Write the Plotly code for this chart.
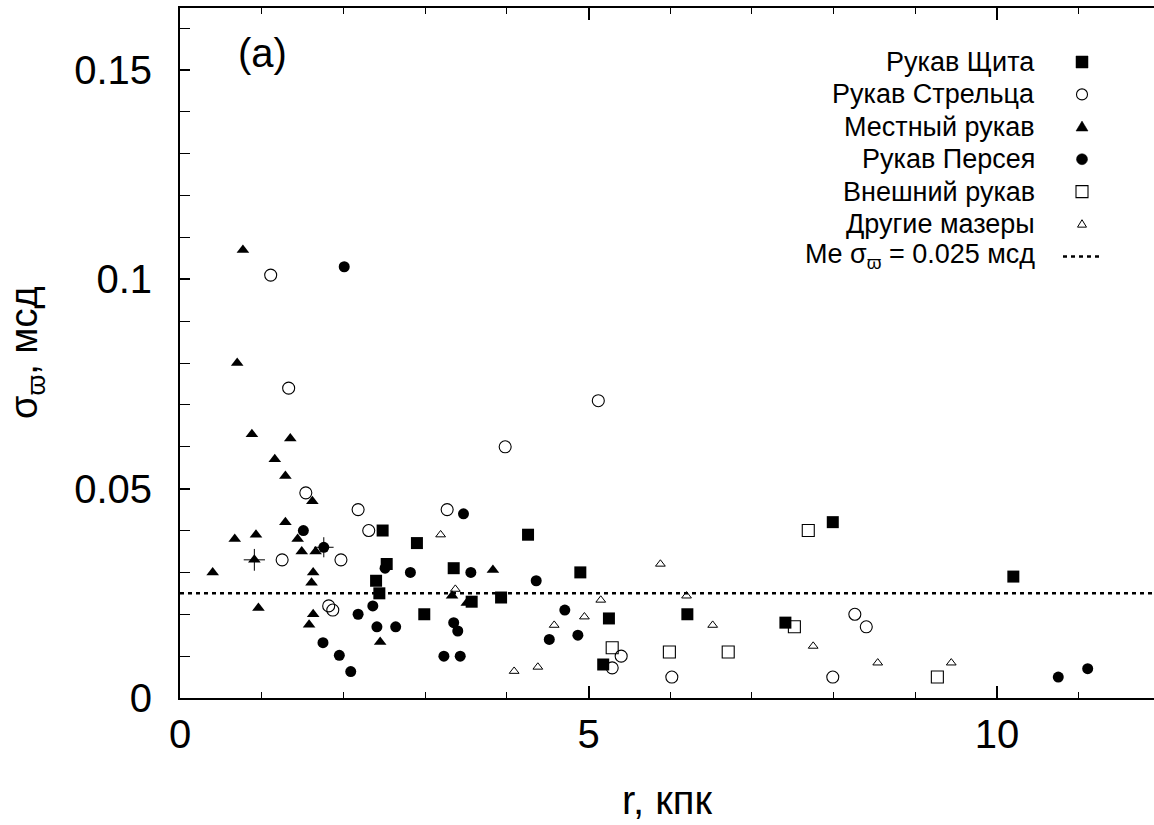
import plotly.graph_objects as go

# ---------------- data (r in kpc, sigma_parallax in mas) ----------------
scutum_r = [2.48, 2.90, 2.53, 2.40, 2.44, 3.35, 2.99, 3.57, 3.93, 4.26, 4.90, 5.25, 5.18, 6.21, 7.41, 7.99, 10.20]
scutum_s = [0.040, 0.037, 0.032, 0.028, 0.025, 0.031, 0.020, 0.023, 0.024, 0.039, 0.030, 0.019, 0.008, 0.020, 0.018, 0.042, 0.029]

sagitt_r = [1.11, 1.33, 1.54, 2.18, 2.31, 1.25, 1.97, 1.82, 1.87, 3.27, 5.40, 5.29, 5.12, 3.98, 6.02, 7.99, 8.26, 8.40]
sagitt_s = [0.101, 0.074, 0.049, 0.045, 0.040, 0.033, 0.033, 0.022, 0.021, 0.045, 0.010, 0.0072, 0.071, 0.060, 0.005, 0.005, 0.020, 0.017]

local_r = [0.77, 0.70, 0.88, 1.35, 1.16, 1.29, 1.62, 1.29, 0.67, 0.93, 1.44, 1.49, 1.66, 0.91, 0.40, 1.63, 1.61, 0.96, 1.63, 1.58, 2.45, 3.83, 3.33, 3.51]
local_s = [0.107, 0.080, 0.063, 0.062, 0.057, 0.053, 0.047, 0.042, 0.038, 0.039, 0.038, 0.035, 0.035, 0.033, 0.030, 0.030, 0.0275, 0.0215, 0.020, 0.0175, 0.0134, 0.0306, 0.0244, 0.0227]
local_er = [0, 0, 0, 0, 0, 0, 0, 0, 0, 0, 0, 0, 0, 0.13, 0, 0, 0, 0, 0, 0, 0, 0, 0, 0]
local_es = [0, 0, 0, 0, 0, 0, 0, 0, 0, 0, 0, 0, 0, 0.0026, 0, 0, 0, 0, 0, 0, 0, 0, 0, 0]

perseus_r = [2.01, 1.51, 1.76, 2.51, 2.82, 2.36, 2.18, 2.41, 2.64, 1.75, 1.95, 2.09, 3.47, 3.56, 4.36, 3.35, 3.40, 3.23, 3.43, 4.71, 4.52, 4.87, 10.75, 11.11]
perseus_s = [0.103, 0.040, 0.036, 0.031, 0.030, 0.022, 0.020, 0.017, 0.017, 0.0132, 0.0102, 0.0063, 0.044, 0.030, 0.028, 0.018, 0.016, 0.010, 0.010, 0.021, 0.014, 0.015, 0.005, 0.007]
perseus_er = [0, 0, 0.12, 0, 0, 0, 0, 0, 0, 0, 0, 0, 0, 0, 0, 0, 0, 0, 0, 0, 0, 0, 0, 0]
perseus_es = [0, 0, 0.0024, 0, 0, 0, 0, 0, 0, 0, 0, 0, 0, 0, 0, 0, 0, 0, 0, 0, 0, 0, 0, 0]

outer_r = [5.29, 5.99, 6.71, 7.69, 7.52, 9.27]
outer_s = [0.012, 0.011, 0.011, 0.040, 0.017, 0.005]

other_r = [3.19, 3.37, 4.09, 4.38, 4.58, 4.95, 5.15, 5.88, 6.20, 6.52, 7.75, 8.54, 9.44]
other_s = [0.039, 0.026, 0.0064, 0.0074, 0.0174, 0.0194, 0.0234, 0.032, 0.0244, 0.0174, 0.0124, 0.0084, 0.0084]

MEDIAN = 0.025

names = ["Рукав Щита", "Рукав Стрельца", "Местный рукав", "Рукав Персея",
         "Внешний рукав", "Другие мазеры"]

x_ticks = [0, 5, 10]
y_ticks = [0, 0.05, 0.1, 0.15]
y_ticktext = ["0", "0.05", "0.1", "0.15"]

FONT = "Liberation Sans, Arial, Helvetica, sans-serif"
BLACK = "black"

fig = go.Figure()

def err(arr):
    return dict(type="data", array=arr, width=0, thickness=1, color=BLACK)

fig.add_trace(go.Scatter(x=scutum_r, y=scutum_s, mode="markers", name=names[0],
                         marker=dict(symbol="square", size=12, color=BLACK, line=dict(width=0))))
fig.add_trace(go.Scatter(x=sagitt_r, y=sagitt_s, mode="markers", name=names[1],
                         marker=dict(symbol="circle-open", size=12, color=BLACK, line=dict(width=1.1))))
fig.add_trace(go.Scatter(x=local_r, y=local_s, mode="markers", name=names[2],
                         error_x=err(local_er), error_y=err(local_es),
                         marker=dict(symbol="triangle-up", size=11, color=BLACK, line=dict(width=0))))
fig.add_trace(go.Scatter(x=perseus_r, y=perseus_s, mode="markers", name=names[3],
                         error_x=err(perseus_er), error_y=err(perseus_es),
                         marker=dict(symbol="circle", size=11, color=BLACK, line=dict(width=0))))
fig.add_trace(go.Scatter(x=outer_r, y=outer_s, mode="markers", name=names[4],
                         marker=dict(symbol="square-open", size=12, color=BLACK, line=dict(width=1.1))))
fig.add_trace(go.Scatter(x=other_r, y=other_s, mode="markers", name=names[5],
                         marker=dict(symbol="triangle-up-open", size=8.5, color=BLACK, line=dict(width=1))))

W, H = 1154, 825
ML, MR, MT, MB = 180, 0, 8, 127
PW, PH = W - ML - MR, H - MT - MB

def px_to_paper_x(px):
    return (px - ML) / PW

def px_to_paper_y(py):
    return (H - MB - py) / PH

annotations = []
# median line across the plot
shapes = [dict(type="line", xref="x domain", yref="y", x0=0, x1=1, y0=MEDIAN, y1=MEDIAN,
               line=dict(color=BLACK, width=2.5, dash="4px,4px"))]

# custom legend (text right aligned, key symbol to its right)
row0, row_step = 62, 32.4
text_right = 1037
key_x = px_to_paper_x(1082)
for i, nm in enumerate(names):
    yy = px_to_paper_y(row0 + i * row_step)
    annotations.append(dict(xref="paper", yref="paper", x=px_to_paper_x(text_right), y=yy,
                            xanchor="right", yanchor="middle", text=nm, showarrow=False,
                            font=dict(family=FONT, size=27, color=BLACK)))

def key(i, kind, half, filled, lw=1.1):
    yy = px_to_paper_y(row0 + i * row_step)
    base = dict(xref="paper", yref="paper", xsizemode="pixel", ysizemode="pixel",
                xanchor=key_x, yanchor=yy, layer="above",
                line=dict(color=BLACK, width=0.5 if filled else lw),
                fillcolor=BLACK if filled else "rgba(0,0,0,0)")
    if kind in ("rect", "circle"):
        base.update(type=kind, x0=-half, x1=half, y0=-half, y1=half)
    else:  # triangle
        w = half
        base.update(type="path", path=f"M {-w} {-w*0.7} L {w} {-w*0.7} L 0 {w*0.95} Z")
    return base

shapes += [
    key(0, "rect", 6, True),
    key(1, "circle", 5.5, False),
    key(2, "tri", 6, True),
    key(3, "circle", 5.5, True),
    key(4, "rect", 6, False),
    key(5, "tri", 4.5, False, 1),
]

med_y = px_to_paper_y(row0 + 6 * row_step)
annotations.append(dict(xref="paper", yref="paper", x=px_to_paper_x(text_right), y=med_y,
                        xanchor="right", yanchor="middle",
                        text=f"Me σ<sub>ϖ</sub> = {MEDIAN:.3f} мсд", showarrow=False,
                        font=dict(family=FONT, size=27, color=BLACK)))
shapes.append(dict(type="line", xref="paper", yref="paper",
                   x0=px_to_paper_x(1063), x1=px_to_paper_x(1100), y0=med_y, y1=med_y,
                   line=dict(color=BLACK, width=2.5, dash="4px,4px")))
# panel label
annotations.append(dict(xref="paper", yref="paper", x=px_to_paper_x(262), y=px_to_paper_y(53),
                        xanchor="center", yanchor="middle", text="(a)", showarrow=False,
                        font=dict(family=FONT, size=40, color=BLACK)))
# axis titles
annotations.append(dict(xref="paper", yref="paper", x=0.5, y=0, xanchor="center", yanchor="top",
                        yshift=-78, text="r, кпк", showarrow=False,
                        font=dict(family=FONT, size=40, color=BLACK)))
annotations.append(dict(xref="paper", yref="paper", x=0, y=0.5, xanchor="center", yanchor="middle",
                        xshift=-153, textangle=-90, text="σ<sub>ϖ</sub>, мсд", showarrow=False,
                        font=dict(family=FONT, size=38, color=BLACK)))

fig.update_layout(
    width=W, height=H,
    margin=dict(l=ML, r=MR, t=MT, b=MB, pad=0),
    paper_bgcolor="white", plot_bgcolor="white",
    showlegend=False,
    font=dict(family=FONT, size=40, color=BLACK),
    annotations=annotations,
    shapes=shapes,
    xaxis=dict(range=[0, PW / 81.7], tickvals=x_ticks, ticktext=[str(v) for v in x_ticks],
               ticks="inside", ticklen=12, tickwidth=1.5, tickcolor=BLACK,
               minor=dict(dtick=1, ticks="inside", ticklen=6, tickwidth=1.2, tickcolor=BLACK),
               showline=True, linecolor=BLACK, linewidth=2, mirror="ticks",
               showgrid=False, zeroline=False, ticklabelstandoff=0,
               tickfont=dict(family=FONT, size=40, color=BLACK)),
    yaxis=dict(range=[0, PH / 4187.0], tickvals=y_ticks, ticktext=y_ticktext,
               ticks="inside", ticklen=10, tickwidth=1.5, tickcolor=BLACK,
               minor=dict(dtick=0.01, ticks="inside", ticklen=10, tickwidth=1.2, tickcolor=BLACK),
               showline=True, linecolor=BLACK, linewidth=2, mirror=False,
               showgrid=False, zeroline=False, ticklabelstandoff=18,
               tickfont=dict(family=FONT, size=40, color=BLACK)),
)

fig.write_html("out.html")
